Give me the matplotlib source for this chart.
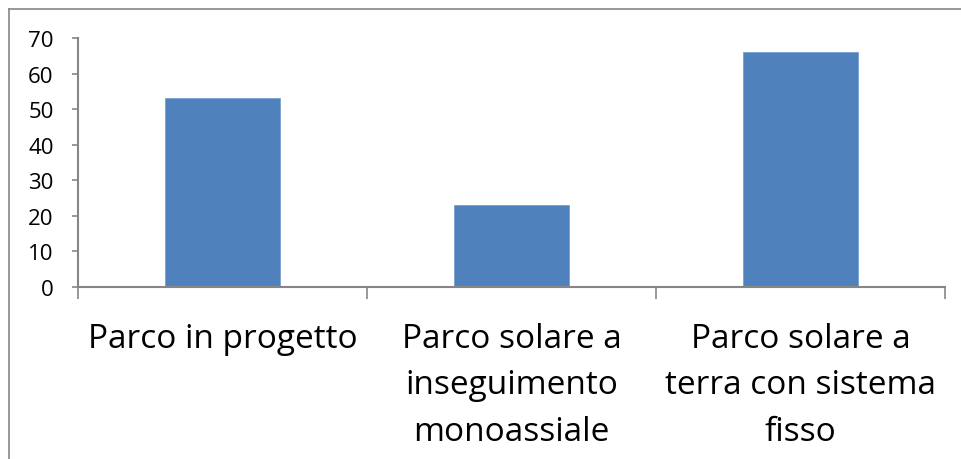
import matplotlib
matplotlib.use("Agg")
import matplotlib.pyplot as plt
from matplotlib import font_manager
from matplotlib.lines import Line2D

categories = ["Parco in progetto",
              "Parco solare a\ninseguimento\nmonoassiale",
              "Parco solare a\nterra con sistema\nfisso"]
values = [53, 23, 66]
yticks = [0, 10, 20, 30, 40, 50, 60, 70]

names = {f.name for f in font_manager.fontManager.ttflist}
family = [n for n in ["Liberation Sans Narrow", "Open Sans", "DejaVu Sans"] if n in names]
plt.rcParams["font.family"] = family

W, H = 961, 460
fig = plt.figure(figsize=(W / 100, H / 100), dpi=100)
ax = fig.add_axes([78 / W, 1 - 288 / H, (945 - 78) / W, (288 - 39) / H])

x = list(range(len(categories)))
ax.bar(x, values, width=0.4, color="#4f81bd", edgecolor="#7aa0d0", linewidth=0.6)

ax.set_xlim(-0.5, len(categories) - 0.5)
ax.set_ylim(0, 70)
ax.set_yticks(yticks)
ax.tick_params(axis="y", direction="out", length=4.5, width=1.2, color="#868686",
               labelsize=16, pad=13)

# category boundaries as tick marks under the x axis
ax.set_xticks([i - 0.5 for i in range(len(categories) + 1)], minor=False)
ax.set_xticklabels([])
ax.tick_params(axis="x", direction="out", length=8.6, width=1.2, color="#868686")
ax.set_xticks(x, minor=True)
ax.set_xticklabels(categories, minor=True, fontsize=24, linespacing=1.55, va="top")
ax.tick_params(axis="x", which="minor", length=0, pad=25)

for s in ["top", "right"]:
    ax.spines[s].set_visible(False)
for s in ["left", "bottom"]:
    ax.spines[s].set_color("#868686")
    ax.spines[s].set_linewidth(1.5)

# chart frame
fig.add_artist(Line2D([8.5 / W, 8.5 / W], [0, 1 - 9.5 / H], transform=fig.transFigure,
                      color="#868686", linewidth=1.2))
fig.add_artist(Line2D([8.5 / W, 1], [1 - 9.5 / H, 1 - 9.5 / H], transform=fig.transFigure,
                      color="#868686", linewidth=1.2))

fig.savefig("out.png", dpi=100)
